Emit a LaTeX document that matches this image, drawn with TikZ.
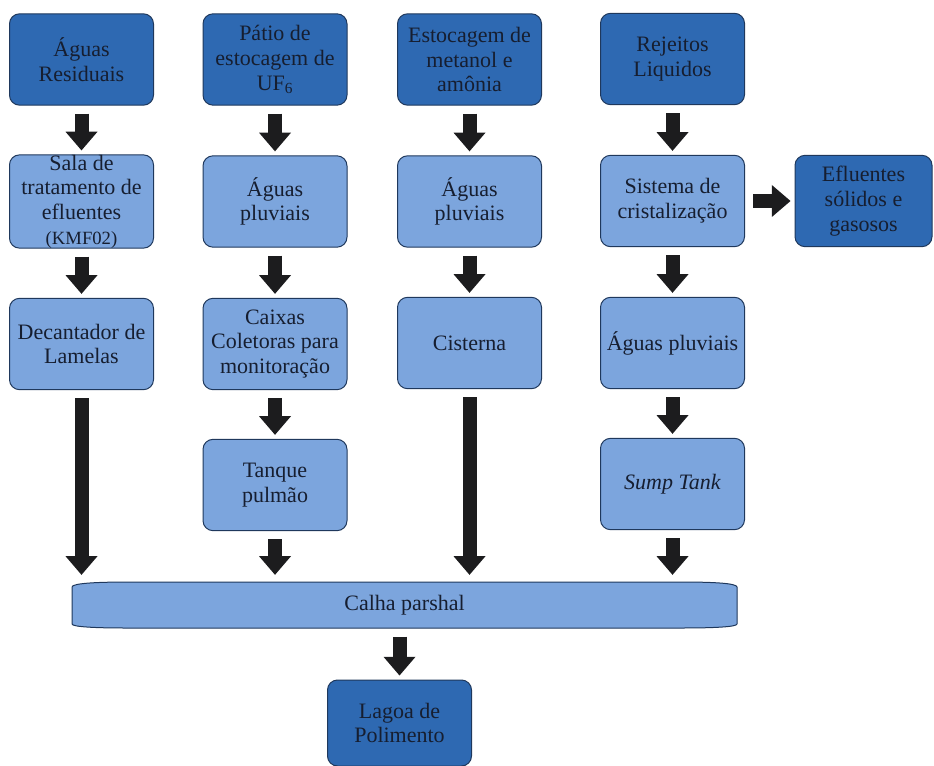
\documentclass[tikz,border=0pt]{standalone}
\usepackage{fontspec}
\IfFontExistsTF{LiberationSerif-Regular.ttf}{%
  \setmainfont{LiberationSerif}[Extension=.ttf, UprightFont=*-Regular, ItalicFont=*-Italic,
    BoldFont=*-Bold, BoldItalicFont=*-BoldItalic]}{%
  \setmainfont{Liberation Serif}}
\usetikzlibrary{arrows.meta}

\definecolor{boxdark}{RGB}{46,105,178}
\definecolor{boxlight}{RGB}{124,165,221}
\definecolor{boxline}{RGB}{31,56,92}
\definecolor{arrowfill}{RGB}{28,28,30}
\definecolor{labeltext}{RGB}{22,30,48}

\tikzset{every picture/.style={line width=0.75pt}}
\tikzset{
  stage/.style={draw=boxline, rounded corners=7.5pt, minimum width=108pt, minimum height=68.5pt,
    inner sep=2pt, align=center, text=labeltext, font=\fontsize{16.5}{18.5}\selectfont},
  source/.style={stage, fill=boxdark},
  process/.style={stage, fill=boxlight},
  flow/.style={draw=arrowfill, line width=10.5pt, -{Triangle[width=24pt,length=14pt,line width=0pt]},
    shorten <=6pt, shorten >=3pt},
}

\begin{document}
\begin{tikzpicture}[x=0.75pt,y=0.75pt,yscale=-1,xscale=1]
	\useasboundingbox (0,0) rectangle (934,766);

	%Sources (top row)
	\node[source] (resid) at (81.5,59.5) {Águas\\Residuais};
	\node[source] (patio) at (275,59.5) {Pátio de\\estocagem de\\UF\textsubscript{6}};
	\node[source] (estoc) at (469.5,59.5) {Estocagem de\\metanol e\\amônia};
	\node[source] (rejei) at (672.5,59) {Rejeitos\\Liquidos};

	%Second row
	\node[process, inner ysep=0pt] (sala) at (81.5,201.5) {Sala de\\tratamento de\\efluentes\\{\fontsize{14}{15}\selectfont(KMF02)}};
	\node[process] (pluvA) at (275,201.5) {Águas\\pluviais};
	\node[process] (pluvB) at (469.5,201.5) {Águas\\pluviais};
	\node[process] (crist) at (672.5,201) {Sistema de\\cristalização};
	\node[source, minimum width=102.75pt] (eflu) at (863.5,201) {Efluentes\\sólidos e\\gasosos};

	%Third row
	\node[process] (decant) at (81.5,344) {Decantador de\\Lamelas};
	\node[process] (caixas) at (275,344) {Caixas\\Coletoras para\\monitoração};
	\node[process] (cist) at (469.5,343) {Cisterna};
	\node[process] (pluvC) at (672.5,343) {Águas pluviais};

	%Fourth row
	\node[process] (tanque) at (275,485) {Tanque\\pulmão};
	\node[process] (sump) at (672.5,484) {\textit{Sump Tank}};

	%Shape: Calha parshal
	\draw[draw=boxline, fill=boxlight] (72,587) .. controls (72,583) and (100,582) .. (130,582) -- (680,582) .. controls (710,582) and (737,583) .. (737,587) -- (737,624) .. controls (737,627) and (712,628) .. (682,628) -- (125,628) .. controls (98,628) and (72,627) .. (72,624) -- cycle ;
	\node[minimum width=498.75pt, minimum height=34.5pt, inner sep=0pt, text=labeltext, font=\fontsize{16.5}{18.5}\selectfont] (calha) at (404.5,605) {Calha parshal};

	%Outlet
	\node[source, minimum height=64.5pt] (lagoa) at (399.5,723) {Lagoa de\\Polimento};

	%Arrows
	\draw[flow] (resid) -- (sala);
	\draw[flow] (sala) -- (decant);
	\draw[flow] (patio) -- (pluvA);
	\draw[flow] (pluvA) -- (caixas);
	\draw[flow] (caixas) -- (tanque);
	\draw[flow] (estoc) -- (pluvB);
	\draw[flow] (pluvB) -- (cist);
	\draw[flow] (rejei) -- (crist);
	\draw[flow] (crist) -- (eflu);
	\draw[flow] (crist) -- (pluvC);
	\draw[flow] (pluvC) -- (sump);

	\draw[flow, shorten >=5pt] (decant) -- (decant.south |- calha.north);
	\draw[flow, shorten >=5pt] (tanque) -- (tanque.south |- calha.north);
	\draw[flow, shorten >=5pt] (cist) -- (cist.south |- calha.north);
	\draw[flow, shorten >=5pt] (sump) -- (sump.south |- calha.north);
	\draw[flow] (lagoa.north |- calha.south) -- (lagoa);

\end{tikzpicture}
\end{document}
